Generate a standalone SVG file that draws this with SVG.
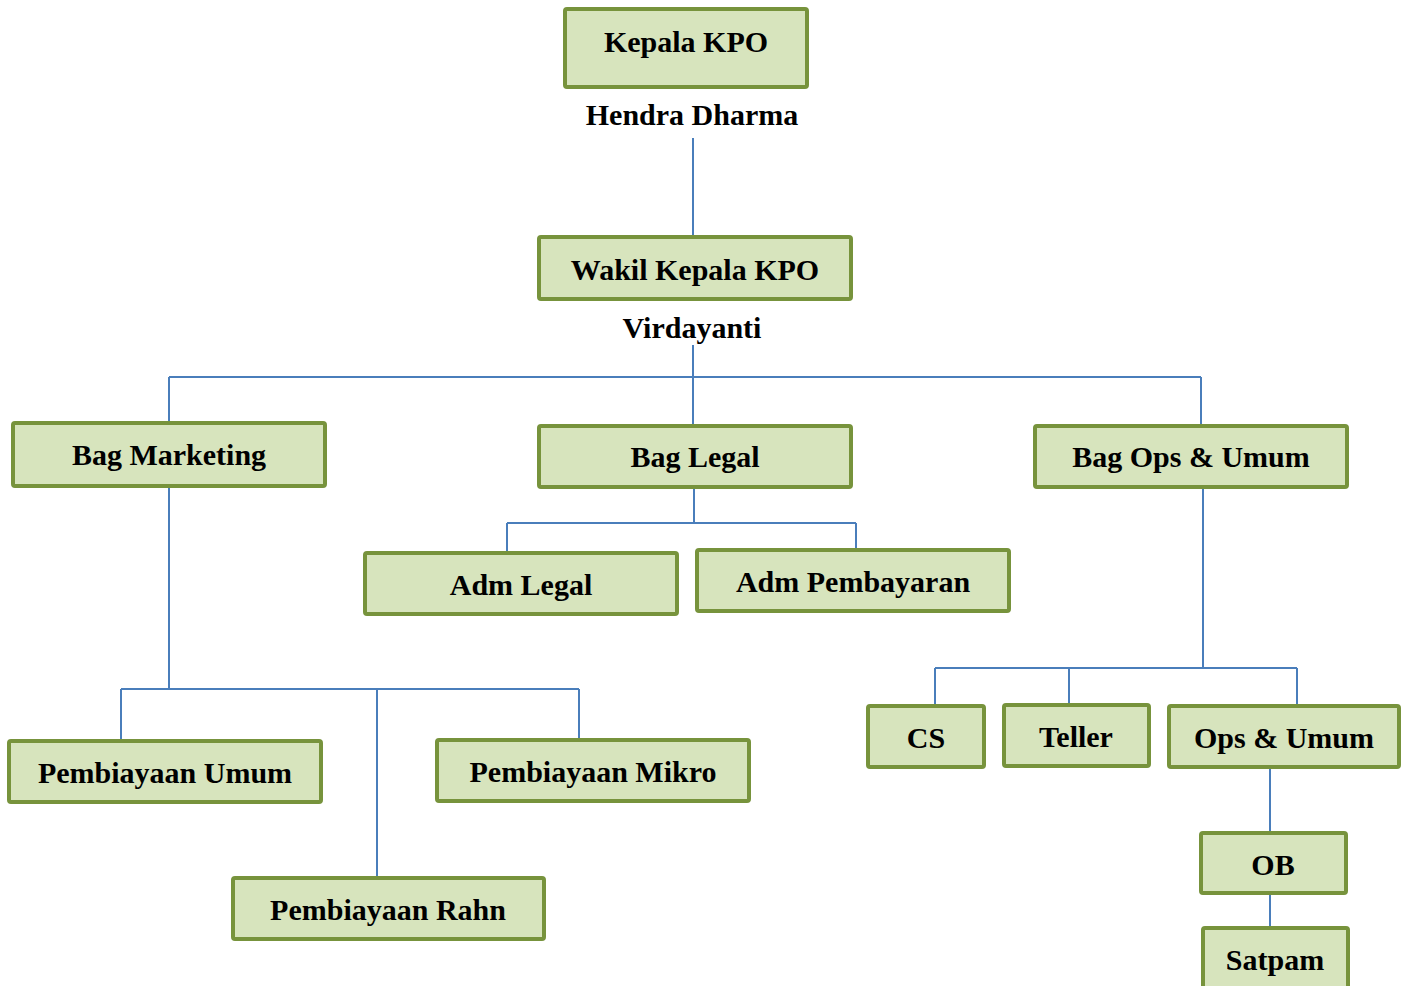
<svg xmlns="http://www.w3.org/2000/svg" width="1411" height="986" viewBox="0 0 1411 986">
<style>
.box{fill:#D7E4BD;stroke:#77933C;stroke-width:4;}
.lbl{font-weight:bold;font-size:30px;fill:#000;text-anchor:middle;}
.ln{fill:none;stroke:#4A7EBB;stroke-width:2;}
</style>
<rect width="1411" height="986" fill="#FFFFFF"/>
<g id="connectors">
<path class="ln" d="M693,138 V237"/>
<path class="ln" d="M693,345 V424 M169,377 H1201 M169,377 V422 M1201,377 V424"/>
<path class="ln" d="M694,489 V523 M507,523 H856 M507,523 V551 M856,523 V548"/>
<path class="ln" d="M169,488 V689 M121,689 H579 M121,689 V739 M377,689 V876 M579,689 V738"/>
<path class="ln" d="M1203,489 V668 M935,668 H1297 M935,668 V704 M1069,668 V703 M1297,668 V704"/>
<path class="ln" d="M1270,769 V831 M1270,895 V926"/>
</g>
<g font-family="Liberation Serif, DejaVu Serif, serif">
<g id="kepala">
<rect class="box" x="565" y="9" width="242" height="78" rx="2"/>
<text class="lbl" x="686" y="52">Kepala KPO</text>
<text class="lbl" x="692" y="125">Hendra Dharma</text>
</g>
<g id="wakil">
<rect class="box" x="539" y="237" width="312" height="62" rx="2"/>
<text class="lbl" x="695" y="280">Wakil Kepala KPO</text>
<text class="lbl" x="692" y="338">Virdayanti</text>
</g>
<g id="bag-marketing">
<rect class="box" x="13" y="423" width="312" height="63" rx="2"/>
<text class="lbl" x="169" y="465">Bag Marketing</text>
</g>
<g id="bag-legal">
<rect class="box" x="539" y="426" width="312" height="61" rx="2"/>
<text class="lbl" x="695" y="467">Bag Legal</text>
</g>
<g id="bag-ops">
<rect class="box" x="1035" y="426" width="312" height="61" rx="2"/>
<text class="lbl" x="1191" y="467">Bag Ops &amp; Umum</text>
</g>
<g id="adm-legal">
<rect class="box" x="365" y="553" width="312" height="61" rx="2"/>
<text class="lbl" x="521" y="595">Adm Legal</text>
</g>
<g id="adm-pembayaran">
<rect class="box" x="697" y="550" width="312" height="61" rx="2"/>
<text class="lbl" x="853" y="592">Adm Pembayaran</text>
</g>
<g id="pembiayaan-umum">
<rect class="box" x="9" y="741" width="312" height="61" rx="2"/>
<text class="lbl" x="165" y="783">Pembiayaan Umum</text>
</g>
<g id="pembiayaan-mikro">
<rect class="box" x="437" y="740" width="312" height="61" rx="2"/>
<text class="lbl" x="593" y="782">Pembiayaan Mikro</text>
</g>
<g id="pembiayaan-rahn">
<rect class="box" x="233" y="878" width="311" height="61" rx="2"/>
<text class="lbl" x="388" y="920">Pembiayaan Rahn</text>
</g>
<g id="cs">
<rect class="box" x="868" y="706" width="116" height="61" rx="2"/>
<text class="lbl" x="926" y="748">CS</text>
</g>
<g id="teller">
<rect class="box" x="1004" y="705" width="145" height="61" rx="2"/>
<text class="lbl" x="1076" y="747">Teller</text>
</g>
<g id="ops-umum">
<rect class="box" x="1169" y="706" width="230" height="61" rx="2"/>
<text class="lbl" x="1284" y="748">Ops &amp; Umum</text>
</g>
<g id="ob">
<rect class="box" x="1201" y="833" width="145" height="60" rx="2"/>
<text class="lbl" x="1273" y="875">OB</text>
</g>
<g id="satpam">
<rect class="box" x="1203" y="928" width="145" height="62" rx="2"/>
<text class="lbl" x="1275" y="970">Satpam</text>
</g>
</g>
</svg>
